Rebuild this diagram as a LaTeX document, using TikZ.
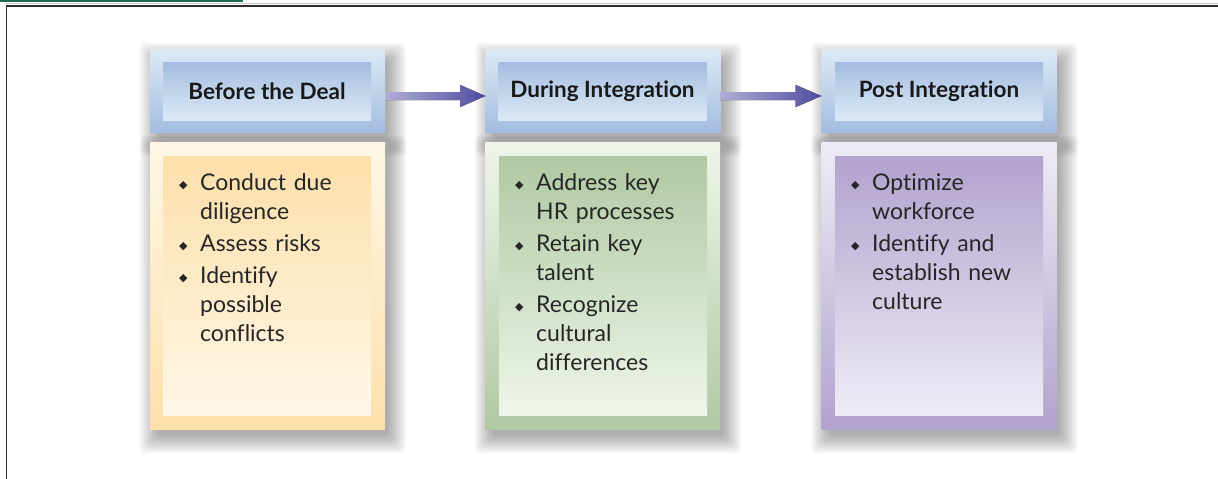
\documentclass[tikz,border=0pt]{standalone}
\usepackage{fontspec}
\setmainfont{Lato}[Ligatures=NoCommon]
\newfontfamily\symfont{DejaVu Sans}
\usetikzlibrary{calc,backgrounds}
\definecolor{hdrtop}{HTML}{DCE9F6}
\definecolor{hdrbot}{HTML}{A3BDE0}
\definecolor{arrowc}{HTML}{4F4BA0}
\definecolor{orA}{HTML}{FEF7E6}
\definecolor{orB}{HTML}{FDDFAA}
\definecolor{grA}{HTML}{EEF5EA}
\definecolor{grB}{HTML}{B0C9A2}
\definecolor{puA}{HTML}{EEECF6}
\definecolor{puB}{HTML}{B2A2CE}
\definecolor{framec}{HTML}{2E2E2E}
\definecolor{greenline}{HTML}{1E6B50}
\newcommand\bul{{\symfont\fontsize{11}{11}\selectfont\raisebox{2pt}{◆}}}
\newcommand\bitem[1]{\par\hangindent=21pt\hangafter=1\noindent\makebox[21pt][l]{\bul}#1\par}
\newcommand\softshadow[1]{\foreach \ee in {-3,-1,...,15}{\fill[black,opacity=0.034,rounded corners=5pt] ($(#1.north west)+(5-\ee,9-\ee)$) rectangle ($(#1.south east)+(6+\ee,9+\ee)$);}}
\begin{document}
\begin{tikzpicture}[x=1pt,y=-1pt,
  hdrout/.style={minimum width=235pt, minimum height=83pt, inner sep=0pt, top color=hdrtop, bottom color=hdrbot},
  hdrin/.style={minimum width=208pt, minimum height=58pt, inner sep=0pt, top color=hdrbot, bottom color=hdrtop,
     font=\fontsize{22.5}{26}\selectfont\bfseries, text=black!90},
  bodyout/.style={minimum width=235pt, minimum height=287pt, inner sep=0pt},
  bodyin/.style={minimum width=208pt, minimum height=259pt, inner sep=0pt},
  blist/.style={anchor=north west, inner sep=0pt, text width=200pt, text=black!85,
     font=\fontsize{23}{29}\selectfont, execute at begin node={\setlength{\parskip}{3pt}\raggedright}},
  arr/.style={left color=arrowc!45, right color=arrowc, draw=none}
]
\useasboundingbox (0,0) rectangle (1218,479);
\draw[greenline, line width=1.6pt] (0,0.8) -- (243,0.8);
\draw[black!20, line width=0.6pt] (6,3.6) -- (1218,3.6);
\draw[framec, line width=1.8pt] (6.5,479) -- (6.5,5.6) -- (1218,5.6);

% body boxes
\node[bodyout, top color=orA, bottom color=orB] (b1o) at (267.5,285.5) {};
\node[bodyin, top color=orB, bottom color=orA] (b1i) at (267,285.5) {};
\node[bodyout, top color=grA, bottom color=grB] (b2o) at (602.5,285.5) {};
\node[bodyin, top color=grB, bottom color=grA] (b2i) at (603,285.5) {};
\node[bodyout, top color=puA, bottom color=puB] (b3o) at (939,285.5) {};
\node[bodyin, top color=puB, bottom color=puA] (b3i) at (939,286) {};

% header boxes
\node[hdrout] (h1o) at (267.5,90.5) {};
\node[hdrin] (h1) at (267,91) {Before the Deal};
\node[hdrout] (h2o) at (603,90.5) {};
\node[hdrin] (h2) at (602.5,91) {During Integration};
\node[hdrout] (h3o) at (939,90.5) {};
\node[hdrin] (h3) at (939,91) {Post Integration};

% shadows
\begin{pgfonlayer}{background}
\fill[white] (0,0) rectangle (1218,479);
\softshadow{b1o}\softshadow{b2o}\softshadow{b3o}
\softshadow{h1o}\softshadow{h2o}\softshadow{h3o}
\end{pgfonlayer}

% lists
\node[blist] (l1) at (179,158) {\bitem{Conduct due\newline diligence}\bitem{Assess risks}\bitem{Identify\newline possible\newline conflicts}};
\node[blist] (l2) at (515,158) {\bitem{Address key\newline HR processes}\bitem{Retain key\newline talent}\bitem{Recognize\newline cultural\newline differences}};
\node[blist] (l3) at (851,158) {\bitem{Optimize\newline workforce}\bitem{Identify and\newline establish new\newline culture}};

% arrows
\fill[arr] ($(h1o.east)+(0,1.5)$) -- ($(h1o.east)+(75,1.5)$) -- ($(h1o.east)+(75,-5.5)$) -- ($(h2o.west)+(0,5.5)$)
  -- ($(h1o.east)+(75,16.5)$) -- ($(h1o.east)+(75,9.5)$) -- ($(h1o.east)+(0,9.5)$) -- cycle;
\fill[arr] ($(h2o.east)+(0,1.5)$) -- ($(h2o.east)+(75,1.5)$) -- ($(h2o.east)+(75,-5.5)$) -- ($(h3o.west)+(0,5.5)$)
  -- ($(h2o.east)+(75,16.5)$) -- ($(h2o.east)+(75,9.5)$) -- ($(h2o.east)+(0,9.5)$) -- cycle;
\end{tikzpicture}
\end{document}
